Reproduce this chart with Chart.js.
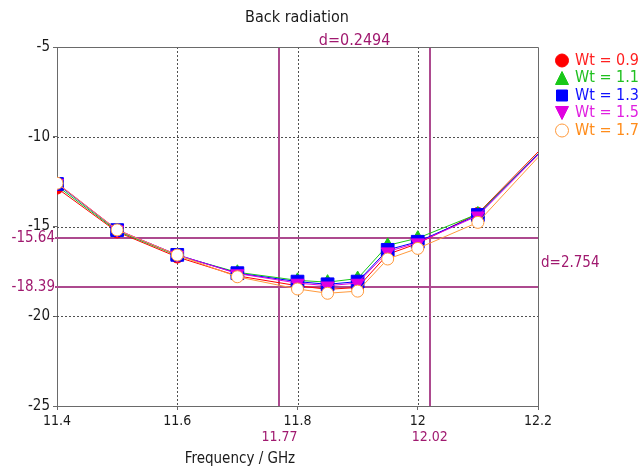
<!DOCTYPE html>
<html><head><meta charset="utf-8">
<script src="https://cdn.jsdelivr.net/npm/chart.js@4.4.1/dist/chart.umd.min.js"></script>
<style>html,body{margin:0;padding:0;background:#fff}canvas{display:block}</style>
</head><body>
<canvas id="c" width="640" height="470"></canvas>
<script>
// ---- data ----
const freq   = [11.4, 11.5, 11.6, 11.7, 11.8, 11.85, 11.9, 11.95, 12.0, 12.1, 12.2];
const wt09   = [-12.86, -15.30, -16.70, -17.75, -18.30, -18.50, -18.40, -16.55, -15.95, -14.27, -10.85];
const wt11   = [-12.74, -15.25, -16.62, -17.55, -18.00, -18.10, -17.90, -16.05, -15.65, -14.30, -10.95];
const wt13   = [-12.63, -15.20, -16.58, -17.60, -18.07, -18.22, -18.07, -16.30, -15.85, -14.36, -10.97];
const wt15   = [-12.58, -15.18, -16.58, -17.62, -18.15, -18.30, -18.15, -16.40, -15.90, -14.40, -11.02];
const wt17   = [-12.59, -15.19, -16.59, -17.80, -18.48, -18.72, -18.60, -16.81, -16.22, -14.77, -11.15];
const seriesNames = ['Wt = 0.9', 'Wt = 1.1', 'Wt = 1.3', 'Wt = 1.5', 'Wt = 1.7'];
const xTicks = [11.4, 11.6, 11.8, 12.0, 12.2];
const yTicks = [-25, -20, -15, -10, -5];
const markerFreq  = [11.77, 12.02];
const markerLevel = [-15.64, -18.39];
const deltaFreqText  = 'd=0.2494';
const deltaLevelText = 'd=2.754';
const titleText = 'Back radiation';
const xTitleText = 'Frequency / GHz';

// ---- styles ----
const FONT = "'DejaVu Sans Condensed', 'DejaVu Sans', sans-serif";
const PURPLE_LINE = '#ad4a8f';
const PURPLE_TEXT = '#a0196f';
const TEXT = '#1a1a1a';
const AXIS = '#6a6a6a';
const styles = [
  {color:'#ff0000', text:'#ff2020', style:'circle',   r:6,   rot:0,   fill:'#ff0000', lw:1},
  {color:'#18c818', text:'#20c020', style:'triangle', r:7.5, rot:0,   fill:'#18c818', lw:1},
  {color:'#0000ff', text:'#1010ff', style:'rect',     r:9,   rot:0,   fill:'#0000ff', lw:1},
  {color:'#e000e0', text:'#e020e0', style:'triangle', r:7.5, rot:180, fill:'#e000e0', lw:1},
  {color:'#ff9a3c', text:'#ff8c1a', style:'circle',   r:6,   rot:0,   fill:'#ffffff', lw:1}
];
const series = [wt09, wt11, wt13, wt15, wt17];

const datasets = series.map((vals, i) => ({
  label: seriesNames[i],
  data: freq.map((f, k) => ({x: f, y: vals[k]})),
  borderColor: styles[i].color,
  backgroundColor: styles[i].color,
  borderWidth: 1,
  tension: 0,
  pointStyle: styles[i].style,
  pointRotation: styles[i].rot,
  pointRadius: ctx => ctx.dataIndex === freq.length - 1 ? 0 : styles[i].r,
  pointHoverRadius: ctx => ctx.dataIndex === freq.length - 1 ? 0 : styles[i].r,
  pointBackgroundColor: styles[i].fill,
  pointBorderColor: styles[i].color,
  pointBorderWidth: styles[i].lw,
  order: series.length - 1 - i
}));

function dashedGrid(ctx, chart) {
  const {left, right, top, bottom} = chart.chartArea;
  const xs = chart.scales.x, ys = chart.scales.y;
  ctx.save();
  ctx.strokeStyle = '#505050';
  ctx.lineWidth = 1;
  ctx.setLineDash([2, 2]);
  xTicks.forEach(v => {
    if (v === xs.min || v === xs.max) return;
    const px = Math.round(xs.getPixelForValue(v)) + 0.5;
    ctx.beginPath(); ctx.moveTo(px, top); ctx.lineTo(px, bottom); ctx.stroke();
  });
  yTicks.forEach(v => {
    if (v === ys.min || v === ys.max) return;
    const py = Math.round(ys.getPixelForValue(v)) + 0.5;
    ctx.beginPath(); ctx.moveTo(left - 4, py); ctx.lineTo(right, py); ctx.stroke();
  });
  ctx.restore();
}

function drawMarker(ctx, st, x, y, size) {
  ctx.save();
  ctx.fillStyle = st.fill;
  ctx.strokeStyle = st.color;
  ctx.lineWidth = 1;
  ctx.beginPath();
  if (st.style === 'circle') {
    ctx.arc(x, y, size / 2, 0, Math.PI * 2);
  } else if (st.style === 'rect') {
    ctx.rect(x - size / 2 + 0.5, y - size / 2 + 0.5, size - 1, size - 1);
  } else if (st.style === 'triangle' && st.rot === 0) {
    ctx.moveTo(x, y - size / 2); ctx.lineTo(x + size / 2, y + size / 2); ctx.lineTo(x - size / 2, y + size / 2); ctx.closePath();
  } else {
    ctx.moveTo(x, y + size / 2); ctx.lineTo(x + size / 2, y - size / 2); ctx.lineTo(x - size / 2, y - size / 2); ctx.closePath();
  }
  ctx.fill(); ctx.stroke();
  ctx.restore();
}

const decor = {
  id: 'decor',
  beforeDraw(chart) {
    const ctx = chart.ctx;
    ctx.save(); ctx.fillStyle = '#fff'; ctx.fillRect(0, 0, chart.width, chart.height); ctx.restore();
  },
  beforeDatasetsDraw(chart) {
    const ctx = chart.ctx;
    const {left, right, top, bottom} = chart.chartArea;
    const xs = chart.scales.x, ys = chart.scales.y;
    dashedGrid(ctx, chart);
    ctx.save();
    ctx.strokeStyle = PURPLE_LINE;
    ctx.lineWidth = 2;
    markerFreq.forEach(f => {
      const px = Math.round(xs.getPixelForValue(f));
      ctx.beginPath(); ctx.moveTo(px, top); ctx.lineTo(px, bottom); ctx.stroke();
    });
    markerLevel.forEach(l => {
      const py = Math.round(ys.getPixelForValue(l));
      ctx.beginPath(); ctx.moveTo(left - 2, py); ctx.lineTo(right, py); ctx.stroke();
    });
    ctx.restore();
  },
  afterDraw(chart) {
    const ctx = chart.ctx;
    const {left, right, top, bottom} = chart.chartArea;
    const xs = chart.scales.x, ys = chart.scales.y;
    ctx.save();
    ctx.strokeStyle = AXIS; ctx.lineWidth = 1;
    ctx.beginPath();
    ctx.moveTo(left, top + 0.5); ctx.lineTo(right + 0.5, top + 0.5); ctx.lineTo(right + 0.5, bottom);
    ctx.stroke();
    ctx.restore();

    ctx.save();
    ctx.textBaseline = 'middle';
    ctx.fillStyle = TEXT;
    ctx.font = '16px ' + FONT;
    ctx.textAlign = 'center';
    ctx.fillText(titleText, 297, 18);
    ctx.font = '15px ' + FONT;
    ctx.fillText(xTitleText, 240, 459);
    ctx.fillStyle = PURPLE_TEXT;
    const mx = markerFreq.map(f => xs.getPixelForValue(f));
    const my = markerLevel.map(l => ys.getPixelForValue(l));
    ctx.font = '16px ' + FONT;
    ctx.fillText(deltaFreqText, (mx[0] + mx[1]) / 2, 41);
    ctx.font = '14px ' + FONT;
    markerFreq.forEach((f, i) => ctx.fillText(String(f), mx[i], 437));
    ctx.textAlign = 'right';
    ctx.font = '15px ' + FONT;
    markerLevel.forEach((l, i) => ctx.fillText(String(l), left - 2, my[i]));
    ctx.textAlign = 'left';
    ctx.fillText(deltaLevelText, right + 3, (my[0] + my[1]) / 2);
    ctx.font = '16px ' + FONT;
    seriesNames.forEach((n, i) => {
      const y = 60.5 + i * 17.5;
      drawMarker(ctx, styles[i], 562, y, i === 2 ? 12 : 13);
      ctx.fillStyle = styles[i].text;
      ctx.fillText(n, 575, y);
    });
    ctx.restore();
  }
};

new Chart(document.getElementById('c'), {
  type: 'line',
  data: {datasets},
  plugins: [decor],
  options: {
    responsive: false,
    animation: false,
    devicePixelRatio: 1,
    layout: {padding: {top: 47, right: 102, left: 0, bottom: 0}},
    plugins: {legend: {display: false}, title: {display: false}, tooltip: {enabled: false}},
    scales: {
      x: {
        type: 'linear', min: 11.4, max: 12.2,
        afterBuildTicks: s => { s.ticks = xTicks.map(v => ({value: v})); },
        afterFit: s => { s.height = 64; },
        ticks: {
          font: {family: FONT, size: 14}, color: TEXT, padding: 3, maxRotation: 0,
          callback: v => String(Math.round(v * 100) / 100)
        },
        grid: {drawOnChartArea: false, tickLength: 4, tickColor: AXIS, color: AXIS},
        border: {color: AXIS, width: 1}
      },
      y: {
        type: 'linear', min: -25, max: -5,
        afterBuildTicks: s => { s.ticks = yTicks.map(v => ({value: v})); },
        afterFit: s => { s.width = 57; },
        ticks: {font: {family: FONT, size: 15}, color: TEXT, padding: 3},
        grid: {drawOnChartArea: false, tickLength: 4, tickColor: AXIS, color: AXIS},
        border: {color: AXIS, width: 1}
      }
    }
  }
});
</script>
</body></html>
